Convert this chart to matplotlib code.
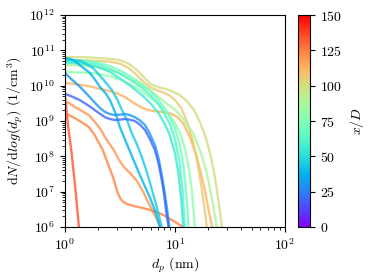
import numpy as np
import matplotlib
matplotlib.use("Agg")
import matplotlib.pyplot as plt
from matplotlib import cm, colors

plt.rcParams['font.family'] = 'serif'
plt.rcParams['font.serif'] = ['cmr10', 'DejaVu Serif']
plt.rcParams['mathtext.fontset'] = 'cm'
plt.rcParams['axes.formatter.use_mathtext'] = True
plt.rcParams['font.size'] = 10

# x/D position of each size distribution
xD = [134, 120, 124, 113, 100, 106, 88, 80, 70, 62, 55, 44, 38, 30, 20]

# diameters (nm) and log10(dN/dlogdp)
d_red = [1.0, 1.02, 1.04, 1.07, 1.11, 1.15, 1.18, 1.22, 1.26, 1.30, 1.34, 1.38]
n_red = [9.74, 9.5, 9.2, 8.85, 8.46, 8.1, 7.75, 7.35, 6.91, 6.45, 6.0, 5.5]
d_or1 = [1.0, 1.1, 1.23, 1.4, 1.65, 1.9, 2.1, 2.31, 2.55, 2.78, 3.0, 3.16, 3.4,
         3.7, 3.98, 4.4, 4.8, 5.2, 5.6, 6.2, 6.9, 7.6]
n_or1 = [9.57, 9.5, 9.4, 9.3, 9.17, 8.95, 8.78, 8.55, 8.35, 8.18, 7.98, 7.86, 7.72,
         7.6, 7.5, 7.35, 7.17, 6.97, 6.76, 6.48, 6.2, 5.9]
d_or2 = [1.0, 1.2, 1.45, 1.65, 1.85, 2.04, 2.21, 2.45, 2.73, 3.03, 3.2, 3.4, 3.7,
         4.2, 5.1, 6.0, 6.9, 8.0, 9.0, 10.0, 11.1, 12.6]
n_or2 = [9.23, 9.1, 8.95, 8.83, 8.62, 8.38, 8.18, 7.8, 7.42, 6.96, 6.8, 6.71, 6.65,
         6.6, 6.54, 6.48, 6.42, 6.33, 6.23, 6.15, 6.06, 5.94]
d_or3 = [1.0, 1.3, 1.7, 2.1, 2.6, 3.0, 3.5, 4.2, 5.0, 5.6, 6.5, 7.5, 9.0, 10.5,
         12.0, 13.7, 15.5, 17.0, 18.7, 20.2, 21.5, 22.5]
n_or3 = [10.08, 10.04, 9.98, 9.91, 9.84, 9.78, 9.68, 9.52, 9.38, 9.32, 9.28, 9.26,
         9.22, 9.12, 8.92, 8.55, 8.08, 7.6, 7.05, 6.5, 6.1, 5.8]
d_yg = [1.0, 1.3, 1.7, 2.1, 2.6, 3.2, 3.8, 4.5, 5.3, 6.0, 7.0, 8.0, 9.5, 11.0,
        13.0, 15.0, 17.0, 19.0, 21.0, 23.0, 25.0, 26.8]
n_yg = [10.81, 10.81, 10.80, 10.78, 10.76, 10.72, 10.62, 10.45, 10.22, 10.05, 9.96,
        9.92, 9.84, 9.74, 9.55, 9.30, 8.95, 8.55, 8.05, 7.45, 6.7, 6.0]
d_ol = [1.0, 1.5, 2.1, 2.6, 3.2, 3.8, 4.5, 5.3, 6.0, 7.0, 8.0, 9.0, 10.0, 11.5,
        13.0, 14.5, 16.0, 17.5, 18.7, 19.5]
n_ol = [10.73, 10.72, 10.70, 10.68, 10.62, 10.50, 10.30, 10.08, 9.95, 9.86, 9.80,
        9.72, 9.6, 9.35, 8.95, 8.45, 7.85, 7.1, 6.45, 6.0]
d_lg = [1.0, 1.4, 1.9, 2.6, 3.3, 4.0, 5.0, 6.0, 7.3, 8.5, 10.0, 12.0, 14.6, 17.0,
        19.5, 21.0, 22.5, 24.0]
n_lg = [10.59, 10.57, 10.53, 10.44, 10.32, 10.18, 10.0, 9.86, 9.66, 9.48, 9.33,
        9.05, 8.66, 8.15, 7.53, 7.05, 6.55, 6.0]
d_gr = [1.0, 1.5, 2.0, 2.6, 3.2, 4.0, 5.0, 6.0, 7.0, 8.5, 10.0, 11.5, 12.5, 13.5,
        14.3, 15.2]
n_gr = [10.39, 10.37, 10.34, 10.27, 10.17, 10.03, 9.85, 9.66, 9.5, 9.25, 8.95, 8.55,
        8.15, 7.6, 7.0, 6.0]
d_c1 = [1.0, 1.5, 2.0, 2.6, 3.2, 4.0, 5.0, 6.0, 7.0, 8.0, 9.0, 10.0, 11.0, 12.0,
        12.8, 13.3]
n_c1 = [10.73, 10.71, 10.66, 10.55, 10.42, 10.25, 10.05, 9.85, 9.62, 9.38, 9.12,
        8.8, 8.35, 7.7, 6.8, 6.0]
d_c2 = [1.0, 1.5, 2.0, 2.6, 3.2, 4.0, 5.0, 6.0, 7.0, 8.0, 9.0, 10.0, 11.0, 11.7,
        12.3]
n_c2 = [10.70, 10.67, 10.6, 10.47, 10.33, 10.15, 9.95, 9.73, 9.5, 9.22, 8.92, 8.5,
        7.85, 7.1, 6.0]
d_c3 = [1.0, 1.5, 2.0, 2.6, 3.2, 4.0, 5.0, 6.0, 7.0, 8.0, 9.0, 10.0, 10.8, 11.4,
        11.9]
n_c3 = [10.66, 10.62, 10.53, 10.38, 10.2, 9.98, 9.74, 9.5, 9.25, 8.95, 8.6, 8.1,
        7.5, 6.8, 6.0]
d_c4 = [1.0, 1.4, 1.8, 2.2, 2.67, 3.0, 3.3, 3.7, 4.0, 4.5, 5.0, 5.5, 6.0, 6.8, 7.6]
n_c4 = [10.75, 10.7, 10.5, 10.2, 9.88, 9.6, 9.31, 9.0, 8.7, 8.35, 7.98, 7.6, 7.2,
        6.6, 6.0]
d_c5 = [1.0, 1.12, 1.23, 1.45, 1.69, 1.9, 2.1, 2.35, 2.57, 2.9, 3.16, 3.6, 4.2,
        5.0, 6.0, 6.8, 7.3]
n_c5 = [10.78, 10.76, 10.7, 10.52, 10.36, 10.15, 9.95, 9.78, 9.59, 9.2, 8.83, 8.4,
        7.9, 7.35, 6.8, 6.35, 6.0]
d_b1 = [1.0, 1.15, 1.37, 1.6, 1.87, 2.1, 2.31, 2.55, 2.85, 3.15, 3.51, 3.9, 4.33,
        4.8, 5.34, 5.9, 6.58, 7.1, 7.6, 8.1, 8.5, 9.0]
n_b1 = [10.36, 10.18, 9.97, 9.75, 9.52, 9.36, 9.26, 9.2, 9.17, 9.18, 9.2, 9.17,
        9.11, 9.02, 8.89, 8.65, 8.32, 7.95, 7.47, 6.95, 6.48, 5.9]
d_b2 = [1.0, 1.15, 1.37, 1.6, 1.87, 2.1, 2.31, 2.55, 2.85, 3.15, 3.51, 3.9, 4.33,
        4.8, 5.34, 5.9, 6.58, 7.1, 7.6, 8.0, 8.3, 8.8]
n_b2 = [9.77, 9.7, 9.59, 9.46, 9.31, 9.2, 9.11, 9.06, 9.03, 9.04, 9.06, 9.04, 9.0,
        8.9, 8.75, 8.5, 8.18, 7.8, 7.33, 6.9, 6.48, 5.94]

d_all = [d_red, d_or1, d_or2, d_or3, d_yg, d_ol, d_lg, d_gr,
         d_c1, d_c2, d_c3, d_c4, d_c5, d_b1, d_b2]
n_all = [n_red, n_or1, n_or2, n_or3, n_yg, n_ol, n_lg, n_gr,
         n_c1, n_c2, n_c3, n_c4, n_c5, n_b1, n_b2]

fig = plt.figure(figsize=(3.69, 2.79), dpi=100)
ax = fig.add_axes([0.176, 0.186, 0.596, 0.760])
cax = fig.add_axes([0.808, 0.186, 0.0325, 0.760])

norm = colors.Normalize(vmin=0, vmax=150)
cmap = plt.get_cmap('rainbow')

for pos, d, n in zip(xD, d_all, n_all):
    ax.plot(d, 10**np.array(n), color=cmap(norm(pos)), lw=1.7, alpha=0.8,
            solid_joinstyle='round')

ax.set_xscale('log')
ax.set_yscale('log')
ax.set_xlim(1, 100)
ax.set_ylim(1e6, 1e12)
ax.set_xlabel(r'$d_p$ (nm)', labelpad=2)
ax.set_ylabel(r'$\mathrm{d}N/\mathrm{d}log(d_p)$ (1/cm$^3$)', labelpad=3)

sm = cm.ScalarMappable(norm=norm, cmap=cmap)
cb = fig.colorbar(sm, cax=cax, ticks=[0, 25, 50, 75, 100, 125, 150])
cb.set_label(r'$x/D$')

fig.savefig('out.png', dpi=100)
